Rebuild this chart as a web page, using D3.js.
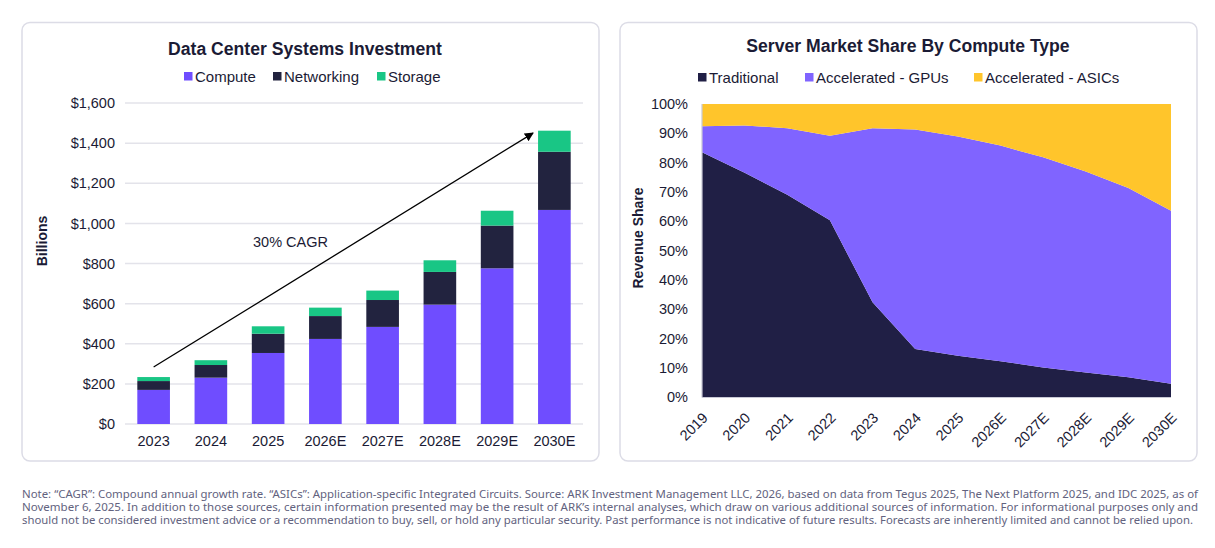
<!DOCTYPE html>
<html>
<head>
<meta charset="utf-8">
<script src="https://cdn.jsdelivr.net/npm/d3@7"></script>
<style>
    body { margin: 0; background: #ffffff; }
    svg text { font-family: "Liberation Sans", Arial, sans-serif; fill: #1b1b35; }
</style>
</head>
<body>
<div id="chart-area"></div>
<script>
// ---------------- data ----------------
var investYears = ["2023", "2024", "2025", "2026E", "2027E", "2028E", "2029E", "2030E"];
var compute    = [170, 231, 354, 424, 484, 595, 776, 1067];
var networking = [44, 63, 96, 114, 134, 163, 213, 290];
var storage    = [20, 24, 37, 42, 47, 58, 74, 105];
var investTicks = [0, 200, 400, 600, 800, 1000, 1200, 1400, 1600];

var shareYears = ["2019", "2020", "2021", "2022", "2023", "2024", "2025", "2026E", "2027E", "2028E", "2029E", "2030E"];
var traditional = [83.5, 76.5, 69.0, 60.3, 32.3, 16.4, 14.1, 12.2, 10.1, 8.4, 6.7, 4.5];
var gpus        = [8.9, 16.2, 22.7, 28.9, 59.4, 74.9, 74.8, 73.6, 71.7, 68.6, 64.6, 59.1];
var asics       = [7.6, 7.3, 8.3, 10.8, 8.3, 8.7, 11.1, 14.2, 18.2, 23.0, 28.7, 36.4];
var shareTicks = [0, 10, 20, 30, 40, 50, 60, 70, 80, 90, 100];

var footnote = [
    "Note: \u201CCAGR\u201D: Compound annual growth rate. \u201CASICs\u201D: Application-specific Integrated Circuits. Source: ARK Investment Management LLC, 2026, based on data from Tegus 2025, The Next Platform 2025, and IDC 2025, as of",
    "November 6, 2025. In addition to those sources, certain information presented may be the result of ARK\u2019s internal analyses, which draw on various additional sources of information. For informational purposes only and",
    "should not be considered investment advice or a recommendation to buy, sell, or hold any particular security. Past performance is not indicative of future results. Forecasts are inherently limited and cannot be relied upon."
];

var svg = d3.select("#chart-area")
    .append("svg")
    .attr("width", 1215)
    .attr("height", 548);

// panel frames
[[22, 599], [620, 1197]].forEach(function(p){
    svg.append("rect")
        .attr("x", p[0]).attr("y", 22.5)
        .attr("width", p[1] - p[0]).attr("height", 438.5)
        .attr("rx", 8)
        .attr("fill", "#ffffff")
        .attr("stroke", "#dcdce6")
        .attr("stroke-width", 1.5);
});

//################## left: Data Center Systems Investment ##################
var invColors = { compute: "#6f4dff", networking: "#22233f", storage: "#19c685" };
var invRows = investYears.map(function(y, i){
    return { year: y, compute: compute[i], networking: networking[i], storage: storage[i] };
});

var x1 = d3.scaleBand().domain(investYears).range([125, 583])
    .paddingInner(0.43).paddingOuter(0.215);
var y1 = d3.scaleLinear().domain([0, 1600]).range([424, 103]);

var g1 = svg.append("g");

g1.append("text")
    .attr("x", 305).attr("y", 55)
    .attr("text-anchor", "middle")
    .attr("font-size", "17.6px")
    .attr("font-weight", "bold")
    .text("Data Center Systems Investment");

// gridlines
g1.selectAll(".grid1").data(investTicks).enter()
    .append("line")
    .attr("x1", 125).attr("x2", 583)
    .attr("y1", function(d){ return y1(d); })
    .attr("y2", function(d){ return y1(d); })
    .attr("stroke", "#e3e3ea")
    .attr("stroke-width", 1.5);

var yAxis1 = g1.append("g")
    .attr("transform", "translate(118,0)")
    .call(d3.axisLeft(y1).tickValues(investTicks).tickSize(0)
        .tickFormat(function(d){ return "$" + d3.format(",")(d); }));
yAxis1.select(".domain").remove();
yAxis1.selectAll("text").attr("font-size", "14.5px").attr("font-family", null).attr("fill", null);

var xAxis1 = g1.append("g")
    .attr("transform", "translate(0,424)")
    .call(d3.axisBottom(x1).tickSize(0).tickPadding(12));
xAxis1.select(".domain").remove();
xAxis1.selectAll("text").attr("font-size", "14.5px").attr("font-family", null).attr("fill", null);

g1.append("text")
    .attr("transform", "translate(47,241) rotate(-90)")
    .attr("text-anchor", "middle")
    .attr("font-size", "14px")
    .attr("font-weight", "bold")
    .text("Billions");

var stack1 = d3.stack().keys(["compute", "networking", "storage"])(invRows);
g1.selectAll(".layer").data(stack1).enter()
    .append("g")
    .attr("fill", function(d){ return invColors[d.key]; })
    .selectAll("rect").data(function(d){ return d; }).enter()
    .append("rect")
    .attr("x", function(d){ return x1(d.data.year); })
    .attr("width", x1.bandwidth())
    .attr("y", function(d){ return y1(d[1]); })
    .attr("height", function(d){ return y1(d[0]) - y1(d[1]); });

// CAGR arrow
svg.append("defs").append("marker")
    .attr("id", "arrow")
    .attr("viewBox", "0 0 10 10")
    .attr("refX", 9).attr("refY", 5)
    .attr("markerWidth", 9).attr("markerHeight", 9)
    .attr("markerUnits", "userSpaceOnUse")
    .attr("orient", "auto")
    .append("path")
    .attr("d", "M0,0 L10,5 L0,10 z")
    .attr("fill", "#000");

g1.append("line")
    .attr("x1", x1("2023") + x1.bandwidth() / 2)
    .attr("y1", y1(284))
    .attr("x2", x1("2030E") - 5)
    .attr("y2", y1(1450))
    .attr("stroke", "#000")
    .attr("stroke-width", 1.3)
    .attr("marker-end", "url(#arrow)");

g1.append("text")
    .attr("x", 253).attr("y", 247)
    .attr("font-size", "14.5px")
    .text("30% CAGR");

// legend
var leg1 = [["Compute", "compute", 184], ["Networking", "networking", 273], ["Storage", "storage", 377]];
leg1.forEach(function(l){
    g1.append("rect").attr("x", l[2]).attr("y", 72).attr("width", 8.5).attr("height", 8.5)
        .attr("fill", invColors[l[1]]);
    g1.append("text").attr("x", l[2] + 11).attr("y", 81.5)
        .attr("font-size", "15px").text(l[0]);
});

//################## right: Server Market Share ##################
var shareColors = { traditional: "#201f45", gpus: "#8064ff", asics: "#ffc52b" };
var shareRows = shareYears.map(function(y, i){
    return { year: y, traditional: traditional[i], gpus: gpus[i], asics: asics[i] };
});

var x2 = d3.scalePoint().domain(shareYears).range([702, 1171]);
var y2 = d3.scaleLinear().domain([0, 100]).range([397, 104]);

var g2 = svg.append("g");

g2.append("text")
    .attr("x", 908).attr("y", 52)
    .attr("text-anchor", "middle")
    .attr("font-size", "17.6px")
    .attr("font-weight", "bold")
    .text("Server Market Share By Compute Type");

var stack2 = d3.stack().keys(["traditional", "gpus", "asics"])(shareRows);
var area = d3.area()
    .x(function(d){ return x2(d.data.year); })
    .y0(function(d){ return y2(d[0]); })
    .y1(function(d){ return y2(d[1]); });

g2.selectAll(".area").data(stack2).enter()
    .append("path")
    .attr("fill", function(d){ return shareColors[d.key]; })
    .attr("d", area);

// axis lines
g2.append("line").attr("x1", 702).attr("x2", 702).attr("y1", 104).attr("y2", 397.5)
    .attr("stroke", "#c9c9d6").attr("stroke-width", 1.2);
g2.append("line").attr("x1", 702).attr("x2", 1171).attr("y1", 397.5).attr("y2", 397.5)
    .attr("stroke", "#c9c9d6").attr("stroke-width", 1.2);

var yAxis2 = g2.append("g")
    .attr("transform", "translate(691,0)")
    .call(d3.axisLeft(y2).tickValues(shareTicks).tickSize(0)
        .tickFormat(function(d){ return d + "%"; }));
yAxis2.select(".domain").remove();
yAxis2.selectAll("text").attr("font-size", "14.5px").attr("font-family", null).attr("fill", null);

g2.selectAll(".xlab").data(shareYears).enter()
    .append("text")
    .attr("transform", function(d){ return "translate(" + (x2(d) - 1) + ",411) rotate(-45)"; })
    .attr("text-anchor", "end")
    .attr("dy", "0.75em")
    .attr("font-size", "14.5px")
    .text(function(d){ return d; });

g2.append("text")
    .attr("transform", "translate(643,238) rotate(-90)")
    .attr("text-anchor", "middle")
    .attr("font-size", "14px")
    .attr("font-weight", "bold")
    .text("Revenue Share");

var leg2 = [["Traditional", "traditional", 698], ["Accelerated - GPUs", "gpus", 805], ["Accelerated - ASICs", "asics", 974]];
leg2.forEach(function(l){
    g2.append("rect").attr("x", l[2]).attr("y", 73).attr("width", 8.5).attr("height", 8.5)
        .attr("fill", shareColors[l[1]]);
    g2.append("text").attr("x", l[2] + 11).attr("y", 82.5)
        .attr("font-size", "15px").text(l[0]);
});

//################## footnote ##################
svg.selectAll(".foot").data(footnote).enter()
    .append("text")
    .attr("x", 22)
    .attr("y", function(d, i){ return 498 + i * 13; })
    .attr("font-size", "10.5px")
    .attr("textLength", function(d, i){ return i == 2 ? 1171 : 1176; })
    .attr("lengthAdjust", "spacingAndGlyphs")
    .style("font-family", "'Noto Sans', sans-serif")
    .style("fill", "#62627e")
    .text(function(d){ return d; });
</script>
</body>
</html>
